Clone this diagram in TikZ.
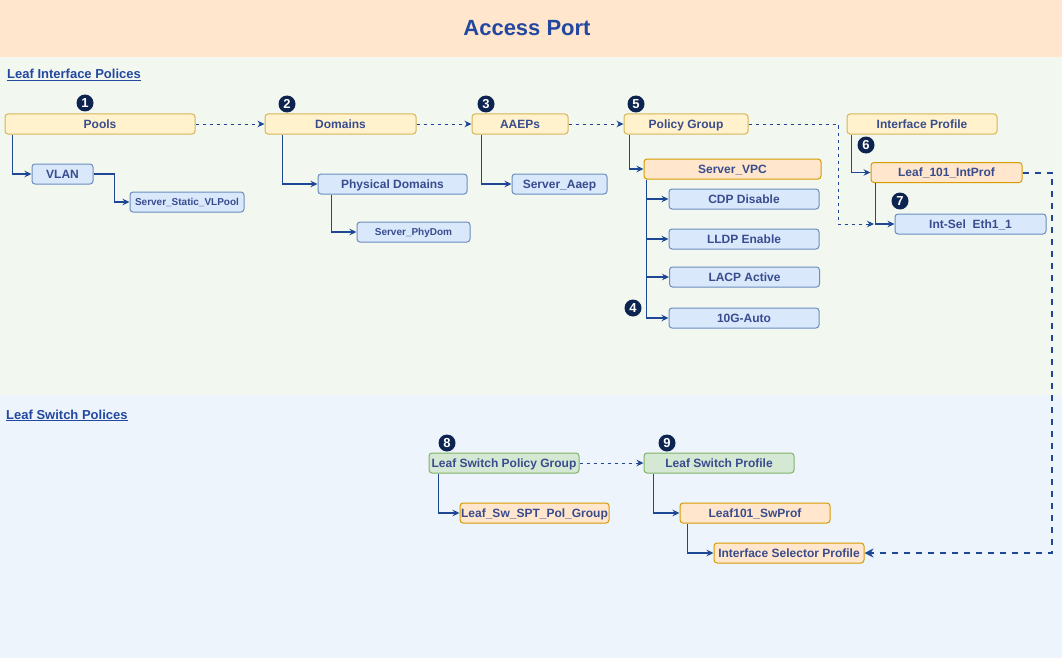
\documentclass[tikz,border=0pt]{standalone}
\usepackage{fontspec}
\setmainfont{Liberation Sans}
\usetikzlibrary{arrows.meta}
\definecolor{bandc}{RGB}{255,230,204}
\definecolor{greenbg}{RGB}{242,247,240}
\definecolor{bluebg}{RGB}{237,244,252}
\definecolor{yfill}{HTML}{FFF2CC}
\definecolor{ystroke}{HTML}{D6B656}
\definecolor{bfill}{HTML}{DAE8FC}
\definecolor{bstroke}{HTML}{6C8EBF}
\definecolor{ofill}{HTML}{FFE6CC}
\definecolor{ostroke}{HTML}{D79B00}
\definecolor{gfill}{HTML}{D5E8D4}
\definecolor{gstroke}{HTML}{82B366}
\definecolor{txt}{RGB}{56,76,142}
\definecolor{conc}{RGB}{30,72,150}
\definecolor{headc}{RGB}{35,72,160}
\definecolor{badgec}{RGB}{14,36,80}
\tikzset{
  box/.style={rectangle, rounded corners=3pt, line width=1pt, minimum height=20pt, inner sep=0pt,
     text=txt, font=\fontsize{12}{14}\selectfont\bfseries, text height=9.8pt, text depth=1pt},
  ybox/.style={box, fill=yfill, draw=ystroke},
  bbox/.style={box, fill=bfill, draw=bstroke},
  obox/.style={box, fill=ofill, draw=ostroke},
  gbox/.style={box, fill=gfill, draw=gstroke},
  small/.style={font=\fontsize{10}{12}\selectfont\bfseries, text height=8.2pt},
  conn/.style={draw=conc, line width=1.1pt, -{Stealth[length=7pt,width=6.5pt]}},
  dconn/.style={conn, line width=0.9pt, dash pattern=on 3.5pt off 3.5pt},
  tconn/.style={draw=conc, line width=2pt, dash pattern=on 6pt off 6pt, -{Stealth[length=9pt,width=9pt]}},
  badge/.style={circle, fill=badgec, text=white, minimum size=17pt, inner sep=0pt,
     font=\fontsize{13}{14}\selectfont\bfseries},
  heading/.style={anchor=base west, inner sep=0pt, text=headc, font=\fontsize{13}{15}\selectfont\bfseries}
}
\begin{document}
\begin{tikzpicture}[x=1pt,y=-1pt]
\useasboundingbox (0,0) rectangle (1062,658);
% backgrounds
\fill[bandc] (0,0) rectangle (1062,57);
\fill[greenbg] (0,57) rectangle (1062,395);
\fill[bluebg] (0,395) rectangle (1062,658);
\node[anchor=base, inner sep=0pt, text=headc, font=\fontsize{22}{26}\selectfont\bfseries] (title) at (527,36) {Access Port};
\node[heading] (h1) at (7,79) {\underline{Leaf Interface Polices}};
\node[heading] (h2) at (6,419) {\underline{Leaf Switch Polices}};

% top row
\node[ybox, minimum width=190pt] (pools) at (100,124) {Pools};
\node[ybox, minimum width=151pt] (domains) at (340.5,124) {Domains};
\node[ybox, minimum width=96pt] (aaeps) at (520,124) {AAEPs};
\node[ybox, minimum width=124pt] (polgrp) at (686,124) {Policy Group};
\node[ybox, minimum width=150pt] (intprof) at (922,124) {Interface Profile};

% children
\node[bbox, minimum width=61pt] (vlan) at (62.5,174) {VLAN};
\node[bbox, small, minimum width=114pt] (vlpool) at (187,202) {Server\_Static\_VLPool};
\node[bbox, minimum width=149pt] (physdom) at (392.5,184) {Physical Domains};
\node[bbox, small, minimum width=113pt] (phydom) at (413.5,232) {Server\_PhyDom};
\node[bbox, minimum width=95pt] (srvaaep) at (559.5,184) {Server\_Aaep};
\node[obox, minimum width=177pt] (vpc) at (732.5,169) {Server\_VPC};
\node[bbox, minimum width=150pt] (cdp) at (744,199) {CDP Disable};
\node[bbox, minimum width=150pt] (lldp) at (744,239) {LLDP Enable};
\node[bbox, minimum width=150pt] (lacp) at (744.5,277) {LACP Active};
\node[bbox, minimum width=150pt] (teng) at (744,318) {10G-Auto};
\node[obox, minimum width=151pt] (leafint) at (946.5,172.5) {Leaf\_101\_IntProf};
\node[bbox, minimum width=151pt] (intsel) at (970.5,224) {Int-Sel\ \ Eth1\_1};

% switch policies
\node[gbox, minimum width=150pt] (lspg) at (504,463) {Leaf Switch Policy Group};
\node[gbox, minimum width=150pt] (lsp) at (719,463) {Leaf Switch Profile};
\node[obox, minimum width=149pt] (lsppg) at (534.5,513) {Leaf\_Sw\_SPT\_Pol\_Group};
\node[obox, minimum width=150pt] (lswprof) at (755,513) {Leaf101\_SwProf};
\node[obox, minimum width=150pt] (isp) at (789,553) {Interface Selector Profile};

% badges
\node[badge] (b1) at (85,103) {1};
\node[badge] (b2) at (287,104) {2};
\node[badge] (b3) at (486,104) {3};
\node[badge] (b4) at (633,308) {4};
\node[badge] (b5) at (636,104) {5};
\node[badge] (b6) at (866,145) {6};
\node[badge] (b7) at (900,201) {7};
\node[badge] (b8) at (447,443) {8};
\node[badge] (b9) at (667,443) {9};

% dashed flow
\draw[dconn] (pools.east) -- (domains.west);
\draw[dconn] (domains.east) -- (aaeps.west);
\draw[dconn] (aaeps.east) -- (polgrp.west);
\coordinate (selin) at (874,224);
\coordinate (pgturn) at (838,124);
\draw[dconn] (polgrp.east) -- (pgturn) |- (selin);
\draw[dconn] (lspg.east) -- (lsp.west);
\coordinate (rt) at (1052,553);
\draw[tconn] (leafint.east) -| (rt) -- (isp.east);

% tree connectors
\draw[conn] ([xshift=8pt]pools.south west) |- (vlan.west);
\draw[conn] (vlan.east) -- ++(21,0) |- (vlpool.west);
\draw[conn] ([xshift=18pt]domains.south west) |- (physdom.west);
\draw[conn] ([xshift=14pt]physdom.south west) |- (phydom.west);
\draw[conn] ([xshift=10pt]aaeps.south west) |- (srvaaep.west);
\draw[conn] ([xshift=6pt]polgrp.south west) |- (vpc.west);
\draw[conn] ([xshift=3pt]vpc.south west) |- (cdp.west);
\draw[conn] ([xshift=3pt]vpc.south west) |- (lldp.west);
\draw[conn] ([xshift=3pt]vpc.south west) |- (lacp.west);
\draw[conn] ([xshift=3pt]vpc.south west) |- (teng.west);
\draw[conn] ([xshift=5pt]intprof.south west) |- (leafint.west);
\draw[conn] ([xshift=5pt]leafint.south west) |- (intsel.west);
\draw[conn] ([xshift=10pt]lspg.south west) |- (lsppg.west);
\draw[conn] ([xshift=10pt]lsp.south west) |- (lswprof.west);
\draw[conn] ([xshift=8pt]lswprof.south west) |- (isp.west);
\end{tikzpicture}
\end{document}
